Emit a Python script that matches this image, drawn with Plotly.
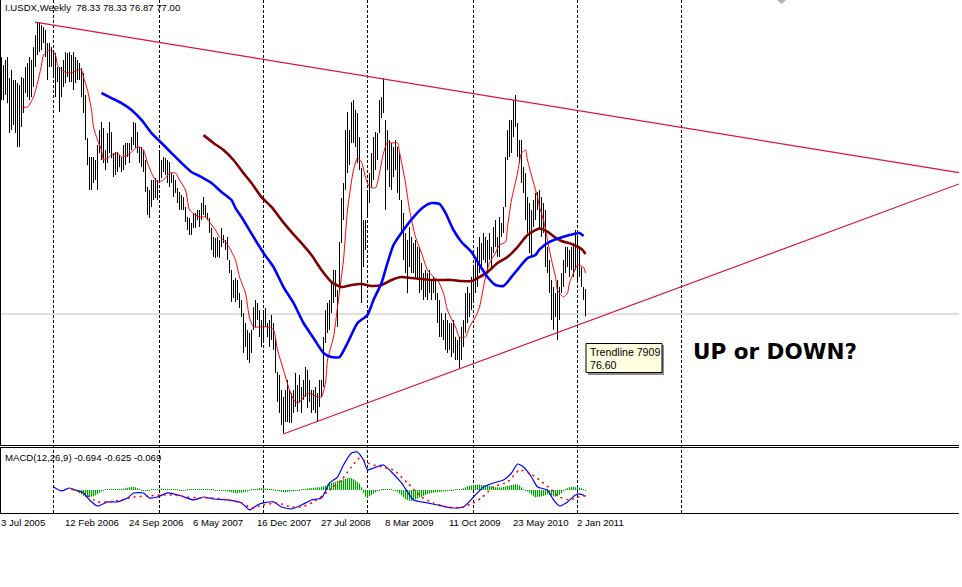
import plotly.graph_objects as go

W, H = 962, 587

# ---------------- data ----------------
symbol = "I.USDX,Weekly"
last_ohlc = [78.33, 78.33, 76.87, 77.00]

# weekly bars, indexed the way the terminal lays them out (one slot per bar)
highs = [
    90.73, 90.30, 90.57, 90.73, 89.61, 90.04, 89.50, 89.50, 89.34, 89.23,
    89.66, 89.61, 90.20, 90.41, 90.73, 90.57, 91.26, 91.90, 92.55, 92.55,
    92.44, 92.33, 92.17, 91.48, 91.48, 91.26, 91.10, 90.94, 90.20, 90.20,
    90.20, 90.57, 90.99, 90.94, 90.99, 90.84, 90.99, 90.73, 90.57, 90.41,
    90.14, 89.88, 88.70, 86.40, 85.39, 85.39, 85.39, 85.23, 86.03, 86.83,
    87.26, 86.94, 85.76, 86.67, 87.26, 86.72, 85.60, 85.65, 85.65, 85.49,
    85.39, 86.03, 86.14, 86.14, 86.14, 86.46, 87.26, 87.21, 86.72, 85.92,
    85.92, 85.76, 85.23, 83.79, 83.63, 84.16, 84.16, 84.27, 84.16, 85.60,
    85.23, 85.39, 85.33, 85.23, 85.12, 84.53, 84.43, 84.16, 83.73, 83.52,
    83.36, 83.25, 82.72, 82.18, 82.13, 81.86, 82.40, 82.40, 82.56, 82.56,
    82.93, 83.25, 82.82, 82.40, 82.13, 81.60, 81.12, 81.06, 81.12, 80.95,
    81.60, 81.22, 80.95, 81.12, 79.89, 79.35, 78.82, 78.92, 78.82, 78.12,
    77.75, 77.05, 76.52, 76.15, 75.99, 76.15, 77.37, 77.75, 77.59, 77.21,
    76.68, 77.05, 77.32, 76.52, 76.68, 76.95, 76.52, 75.72, 73.90, 73.74,
    72.94, 72.57, 72.94, 73.48, 72.94, 72.78, 72.94, 73.85, 73.21, 73.74,
    73.10, 73.48, 74.17, 74.01, 73.48, 72.94, 72.94, 73.10, 72.78, 73.48,
    73.48, 75.77, 77.21, 77.59, 77.75, 78.71, 79.35, 79.35, 78.28, 80.85,
    83.20, 84.00, 86.83, 87.79, 86.83, 88.32, 88.43, 87.90, 87.74, 86.46,
    84.80, 82.02, 82.02, 83.63, 84.53, 85.60, 86.46, 86.72, 86.67, 88.43,
    88.59, 89.61, 87.37, 86.83, 86.30, 86.14, 85.92, 86.30, 85.92, 85.60,
    83.09, 82.40, 81.33, 80.95, 81.65, 81.12, 80.79, 80.95, 80.58, 80.58,
    79.73, 79.19, 79.35, 79.19, 79.35, 78.82, 78.98, 78.82, 78.12, 77.75,
    77.05, 76.68, 77.05, 76.68, 76.52, 76.52, 76.68, 75.77, 75.61, 75.77,
    76.31, 76.68, 78.12, 78.44, 78.12, 78.98, 79.51, 79.89, 80.58, 81.12,
    80.79, 81.33, 81.12, 80.95, 81.33, 80.58, 81.65, 82.02, 81.12, 82.18,
    81.86, 82.72, 85.39, 86.83, 87.37, 87.37, 88.43, 88.70, 87.21, 86.30,
    86.30, 84.85, 84.53, 83.25, 82.93, 82.56, 83.09, 83.47, 83.52, 83.63,
    83.25, 82.93, 82.56, 80.58, 79.89, 78.82, 78.44, 78.12, 78.82, 78.44,
    79.19, 79.89, 80.58, 80.58, 80.42, 80.58, 80.79, 81.49, 81.12, 80.58,
    79.51, 78.44, 78.33,
]
lows = [
    88.43, 88.43, 88.70, 88.27, 86.67, 86.83, 87.10, 86.67, 85.92, 85.92,
    86.99, 87.74, 88.81, 88.59, 88.43, 88.59, 89.13, 90.20, 90.84, 91.00,
    91.10, 91.48, 90.73, 89.50, 90.20, 90.20, 89.66, 88.59, 89.39, 87.79,
    88.59, 89.13, 89.34, 89.66, 89.39, 89.39, 88.97, 89.34, 89.50, 89.50,
    88.59, 87.74, 86.30, 84.96, 83.63, 83.63, 84.00, 84.16, 83.63, 85.60,
    85.23, 85.07, 84.69, 85.07, 85.60, 85.33, 84.32, 84.43, 84.59, 84.85,
    84.59, 84.69, 84.96, 85.39, 85.07, 85.76, 86.03, 85.87, 85.60, 85.07,
    84.85, 84.59, 83.52, 82.29, 82.13, 82.72, 83.09, 83.20, 83.09, 84.00,
    84.27, 84.59, 84.43, 84.00, 83.79, 84.00, 83.25, 83.47, 82.93, 82.56,
    82.56, 82.56, 81.92, 81.49, 81.22, 81.22, 81.60, 81.60, 82.02, 81.65,
    82.02, 82.29, 82.18, 82.02, 81.33, 80.42, 80.05, 79.99, 80.05, 79.99,
    80.58, 80.79, 80.42, 79.89, 79.19, 77.64, 77.86, 77.64, 77.75, 77.32,
    76.84, 74.92, 75.24, 74.54, 74.38, 74.92, 76.15, 76.31, 76.68, 75.77,
    75.24, 75.45, 76.31, 75.77, 75.24, 75.61, 75.08, 73.85, 72.30, 71.71,
    71.07, 70.64, 71.23, 71.23, 71.18, 71.18, 71.71, 72.03, 71.77, 72.25,
    71.71, 72.41, 72.57, 71.98, 72.30, 71.71, 71.87, 71.71, 71.23, 72.03,
    72.57, 73.10, 75.45, 75.99, 76.15, 77.05, 77.59, 77.91, 76.31, 78.20,
    80.80, 82.02, 83.63, 84.53, 84.96, 86.14, 86.14, 85.92, 85.07, 84.69,
    77.59, 79.51, 80.42, 82.18, 82.93, 83.79, 84.16, 84.69, 85.23, 86.67,
    87.47, 87.74, 82.56, 84.69, 83.79, 83.63, 84.32, 84.69, 83.47, 83.09,
    81.33, 79.89, 79.19, 78.12, 79.51, 79.19, 79.19, 78.98, 78.82, 78.12,
    78.28, 77.75, 77.91, 77.75, 78.12, 77.75, 78.12, 77.75, 76.52, 75.77,
    75.77, 75.61, 75.08, 74.92, 75.08, 74.70, 74.92, 74.54, 74.54, 74.12,
    74.54, 75.24, 75.99, 76.52, 76.84, 77.21, 77.75, 78.12, 78.44, 79.19,
    79.51, 79.89, 79.73, 79.35, 79.89, 79.51, 80.26, 80.58, 80.05, 80.05,
    81.12, 81.33, 82.72, 85.23, 85.39, 85.60, 86.46, 87.00, 85.39, 85.07,
    84.00, 83.47, 82.02, 81.33, 80.26, 80.05, 81.65, 82.02, 82.56, 81.49,
    81.12, 81.33, 79.51, 79.19, 78.12, 76.68, 76.15, 76.84, 75.61, 76.68,
    78.12, 78.44, 79.19, 79.51, 78.98, 79.35, 78.98, 79.35, 78.66, 78.98,
    78.44, 77.75, 76.87,
]

# moving averages (bar index, value)
red_idx = [10, 13, 16, 18, 20, 21, 24, 25, 27, 28,
           30, 33, 35, 38, 40, 41, 43, 45, 46, 48,
           50, 51, 53, 55, 58, 60, 63, 65, 67, 69,
           71, 73, 76, 78, 81, 84, 87, 89, 92, 93,
           94, 97, 99, 102, 104, 107, 109, 112, 114, 117,
           119, 122, 124, 126, 129, 133, 136, 138, 141, 144,
           147, 149, 152, 154, 158, 160, 162, 163, 166, 168,
           171, 173, 176, 178, 180, 182, 184, 187, 189, 191,
           193, 195, 198, 199, 202, 204, 207, 210, 213, 216,
           218, 221, 223, 227, 229, 232, 234, 237, 239, 242,
           244, 247, 249, 252, 253, 255, 258, 260, 262, 263,
           266, 268, 269, 271, 273, 275, 277, 278, 281, 283,
           284, 286, 288, 289, 291, 292]
red_val = [88.06, 88.06, 88.59, 89.34, 90.30, 90.84, 91.10, 91.10, 90.84, 90.30,
           90.04, 89.88, 89.88, 90.04, 90.04, 89.66, 88.97, 87.90, 86.99, 86.30,
           85.76, 85.23, 85.33, 85.49, 85.60, 85.39, 85.49, 85.65, 85.87, 85.92,
           85.76, 85.07, 84.32, 84.05, 84.16, 84.53, 84.53, 84.16, 83.63, 83.09,
           82.56, 82.29, 82.18, 82.18, 81.92, 81.49, 81.12, 80.85, 80.53, 79.89,
           78.98, 78.12, 76.80, 76.31, 76.31, 76.31, 76.15, 75.08, 74.01, 72.94,
           72.30, 72.30, 72.68, 72.78, 72.57, 72.57, 73.32, 74.54, 75.77, 77.37,
           79.89, 82.56, 84.69, 85.33, 85.12, 84.32, 83.79, 83.74, 84.53, 85.60,
           86.19, 86.14, 86.14, 85.65, 84.00, 82.56, 81.12, 80.26, 79.35, 78.98,
           78.82, 78.12, 77.21, 76.31, 75.77, 75.77, 76.31, 76.84, 77.37, 78.98,
           79.73, 80.26, 80.69, 80.85, 81.65, 83.09, 84.53, 85.60, 85.76, 85.23,
           84.00, 83.25, 82.72, 82.02, 80.95, 79.89, 78.98, 78.28, 77.91, 78.12,
           78.66, 79.19, 79.62, 79.62, 79.51, 79.19]

blue_idx = [50, 55, 60, 65, 70, 75, 80, 85, 90, 95,
            100, 105, 110, 115, 117, 120, 126, 131, 136, 141,
            146, 151, 156, 161, 165, 169, 173, 178, 183, 186,
            190, 193, 196, 201, 206, 211, 215, 219, 222, 226,
            230, 235, 239, 243, 247, 251, 255, 259, 263, 267,
            269, 274, 279, 284, 289, 291]
blue_val = [88.81, 88.54, 88.27, 87.90, 87.37, 86.67, 86.14, 85.60, 85.07, 84.59,
            84.32, 84.00, 83.52, 83.09, 82.66, 82.18, 81.12, 80.26, 79.51, 78.44,
            77.59, 76.52, 75.72, 74.92, 74.70, 74.70, 75.45, 76.52, 76.95, 77.75,
            78.66, 79.73, 80.69, 81.49, 82.18, 82.72, 82.93, 82.88, 82.40, 81.49,
            80.85, 80.31, 79.62, 78.98, 78.55, 78.50, 78.98, 79.51, 79.99, 80.15,
            80.45, 80.85, 81.06, 81.22, 81.33, 81.17]

maroon_idx = [101, 106, 111, 116, 121, 125, 130, 135, 140, 145,
              150, 155, 160, 165, 170, 175, 180, 185, 190, 195,
              200, 205, 210, 215, 220, 225, 230, 235, 238,
              243, 248, 253, 258, 263, 269, 273, 276, 280, 285,
              290, 292]
maroon_val = [86.56, 86.14, 85.76, 85.23, 84.53, 84.00, 83.25, 82.72, 82.02, 81.38,
              80.79, 80.15, 79.35, 78.71, 78.44, 78.55, 78.60, 78.50, 78.55, 78.82,
              78.98, 78.92, 78.87, 78.82, 78.82, 78.82, 78.76, 78.76, 78.92,
              79.24, 79.73, 80.05, 80.58, 81.22, 81.57, 81.40, 81.15, 80.90, 80.74,
              80.47, 80.21]

# MACD panel
macd_name = "MACD(12,26,9)"
macd_last = [-0.694, -0.625, -0.069]
macd_idx = [26, 30, 34, 37, 41, 44, 48, 53, 58, 63,
            66, 71, 74, 78, 83, 90, 96, 101, 106, 113,
            120, 124, 128, 131, 136, 140, 145, 150, 155, 160,
            164, 168, 171, 175, 178, 181, 183, 186, 191, 195,
            200, 206, 213, 218, 225, 231, 236, 241, 246, 251,
            255, 258, 261, 265, 268, 273, 276, 279, 283, 287,
            289, 292]
macd_val = [0.33, -0.11, 0.22, 0.0, -0.33, -1.11, -1.78, -1.33, -1.33, -0.89,
            -0.33, -0.33, -0.89, -0.78, -0.33, -0.67, -1.11, -0.78, -1.0, -1.11,
            -1.44, -2.22, -1.67, -1.44, -1.33, -1.89, -2.11, -1.67, -1.11, -0.89,
            0.78, 1.44, 2.78, 4.11, 4.22, 3.33, 2.22, 2.44, 2.78, 2.0,
            0.78, -1.11, -1.44, -1.67, -2.0, -1.89, -0.78, 0.33, 0.78, 1.11,
            1.89, 2.89, 2.56, 1.44, 0.33, 0.0, -1.11, -1.78, -1.33, -0.56,
            -0.44, -0.694]
sig_idx = [35, 41, 48, 53, 60, 66, 73, 80, 86, 93,
           100, 106, 113, 120, 125, 131, 138, 145, 150, 156,
           163, 170, 175, 179, 183, 190, 196, 203, 210, 216,
           223, 229, 236, 240, 246, 253, 259, 264, 269, 274,
           279, 284, 288, 292]
sig_val = [0.11, -0.33, -1.33, -1.33, -1.11, -0.78, -0.67, -0.56, -0.56, -0.78,
           -0.89, -0.89, -1.11, -1.44, -2.0, -1.67, -1.44, -1.89, -1.89, -1.33,
           -0.22, 1.11, 2.56, 3.56, 3.0, 2.56, 2.22, 0.78, -0.78, -1.44,
           -1.89, -2.0, -1.44, -0.89, 0.33, 0.89, 2.22, 1.89, 1.11, 0.22,
           -0.78, -1.11, -0.78, -0.625]
hist = [
    0.0, -0.05, -0.1, -0.2, -0.35, -0.5,
    -0.65, -0.75, -0.8, -0.8, -0.75, -0.7, -0.6, -0.45, -0.3,
    -0.15, -0.05, 0.05, 0.05, 0.05, 0.05, 0.05, 0.05, 0.05, 0.05, 0.1, 0.15,
    0.2, 0.25, 0.3, 0.35, 0.35, 0.3, 0.2,
    0.05, -0.05, -0.1, -0.1, -0.05, -0.05, 0.0, 0.05, 0.1, 0.1, 0.15,
    0.15, 0.15, 0.1, 0.1, 0.05, 0.05, 0.05, 0.05, 0.0,
    -0.05, -0.05, -0.05, -0.05, 0.0, 0.05, 0.05, 0.05, 0.05, 0.05, 0.05,
    0.05, 0.05, 0.0, 0.0, 0.05, 0.05, 0.0, -0.05, -0.05, -0.05, -0.1, -0.1, -0.1, -0.15, -0.2,
    -0.25, -0.3, -0.35, -0.35, -0.3, -0.3, -0.25, -0.2, -0.15, -0.1,
    0.0, 0.05, 0.1, 0.15, 0.2, 0.2, 0.2, 0.15, 0.15, 0.1, 0.05, 0.0, -0.05, -0.1,
    -0.15, -0.2, -0.25, -0.25, -0.2, -0.2, -0.15, -0.15, -0.1, -0.1, -0.05,
    0.0, 0.05, 0.1, 0.15, 0.2, 0.2, 0.25, 0.25, 0.3, 0.3,
    0.35, 0.4, 0.5, 0.6, 0.7, 0.8, 0.85, 0.9, 1.0, 1.05, 1.1, 1.2, 1.25, 1.3, 1.35, 1.3, 1.2, 1.05, 0.9, 0.7,
    0.3, -0.3, -0.75, -0.85, -0.7, -0.55, -0.4, -0.25, -0.15,
    -0.05, 0.0, 0.05, 0.1, 0.05, 0.0, 0.0, -0.05, -0.1, -0.2,
    -0.4, -0.6, -0.8, -1.0, -1.1, -1.2, -1.2, -1.15, -1.05, -0.95, -0.85, -0.75, -0.65, -0.55, -0.45, -0.4, -0.35, -0.3,
    -0.25, -0.25, -0.2, -0.2, -0.15, -0.15, -0.1, -0.1, -0.05, -0.05,
    0.0, 0.0, 0.05, 0.1,
    0.2, 0.3, 0.4, 0.45, 0.5, 0.55, 0.6, 0.6, 0.6, 0.55, 0.55, 0.5, 0.5, 0.45, 0.4,
    0.35, 0.3, 0.3, 0.3, 0.3, 0.35, 0.4, 0.45, 0.5,
    0.55, 0.6, 0.65, 0.6, 0.5, 0.3,
    0.1, -0.05, -0.15, -0.3,
    -0.5, -0.7, -0.8, -0.8, -0.75, -0.7, -0.65, -0.6, -0.5, -0.55, -0.6, -0.7, -0.75, -0.7, -0.55, -0.35,
    -0.1, 0.05, 0.2, 0.3, 0.35, 0.35, 0.3, 0.3, 0.25, 0.2, 0.1, -0.069,
]

# trendlines (bar position, price)
upper_tl_x = [16.75, 478.75]
upper_tl_y = [92.60, 84.55]
lower_tl_x = [140.9, 478.75]
lower_tl_y = [70.59, 83.95]
tl_name = "Trendline 7909"
tl_value = 76.60
note_text = "UP or DOWN?"

# time axis: bar slots of the yearly separators and of the date labels
year_idx = [26, 79, 131, 183, 236, 288, 340]
tick_idx = [0, 32, 64, 96, 128, 160, 192, 224, 256, 288]
tick_text = ["3 Jul 2005", "12 Feb 2006", "24 Sep 2006", "6 May 2007", "16 Dec 2007",
             "27 Jul 2008", "8 Mar 2009", "11 Oct 2009", "23 May 2010", "2 Jan 2011"]

x_range = [-0.75, 478.75]
price_range = [70.0, 93.78]
macd_range = [-2.56, 4.78]

# ---------------- figure ----------------
def px(v):
    return v / W


def py(v):
    return 1 - v / H


FONT = "Liberation Sans, Arial, sans-serif"
bar_x = list(range(len(highs)))

fig = go.Figure()

# price bars (high-low)
bx, by = [], []
for k, hv, lv in zip(bar_x, highs, lows):
    bx += [k, k, None]
    by += [lv, hv, None]
fig.add_trace(go.Scatter(x=bx, y=by, mode="lines", line=dict(color="black", width=1),
                         xaxis="x", yaxis="y", hoverinfo="skip"))

fig.add_trace(go.Scatter(x=red_idx, y=red_val, mode="lines",
                         line=dict(color="#FF0000", width=1, shape="spline", smoothing=0.6),
                         xaxis="x", yaxis="y", hoverinfo="skip"))
fig.add_trace(go.Scatter(x=maroon_idx, y=maroon_val, mode="lines",
                         line=dict(color="#800000", width=2.6, shape="spline", smoothing=0.6),
                         xaxis="x", yaxis="y", hoverinfo="skip"))
fig.add_trace(go.Scatter(x=blue_idx, y=blue_val, mode="lines",
                         line=dict(color="#0000FF", width=2.6, shape="spline", smoothing=0.6),
                         xaxis="x", yaxis="y", hoverinfo="skip"))

fig.add_trace(go.Scatter(x=upper_tl_x, y=upper_tl_y, mode="lines",
                         line=dict(color="#DC143C", width=1.2), xaxis="x", yaxis="y",
                         hoverinfo="skip"))
fig.add_trace(go.Scatter(x=lower_tl_x, y=lower_tl_y, mode="lines",
                         line=dict(color="#DC143C", width=1.2), xaxis="x", yaxis="y",
                         hoverinfo="skip"))

# MACD histogram
h0 = len(bar_x) - len(hist)
hx, hy = [], []
for k, v in zip(bar_x[h0:], hist):
    hx += [k, k, None]
    hy += [0, v if abs(v) > 0.1 else (0.11 if v >= 0 else -0.11), None]
fig.add_trace(go.Scatter(x=hx, y=hy, mode="lines", line=dict(color="#00A000", width=1.2),
                         xaxis="x2", yaxis="y2", hoverinfo="skip"))
fig.add_trace(go.Scatter(x=macd_idx, y=macd_val, mode="lines",
                         line=dict(color="#0000FF", width=1.2, shape="spline", smoothing=0.5),
                         xaxis="x2", yaxis="y2", hoverinfo="skip"))
fig.add_trace(go.Scatter(x=sig_idx, y=sig_val, mode="lines",
                         line=dict(color="#FF0000", width=1.5, dash="2px,4px",
                                   shape="spline", smoothing=0.5),
                         xaxis="x2", yaxis="y2", hoverinfo="skip"))

shapes = []
# bid line
shapes.append(dict(type="line", xref="paper", yref="y", x0=0, x1=px(959),
                   y0=last_ohlc[3], y1=last_ohlc[3],
                   line=dict(color="#C0C0C0", width=1), layer="below"))
# yearly dashed separators
for k in year_idx:
    shapes.append(dict(type="line", xref="x", yref="paper", x0=k, x1=k,
                       y0=py(513), y1=1, line=dict(color="black", width=1, dash="3px,2px"),
                       layer="below"))
# frames
for y0, y1 in [(0, 445), (447, 513)]:
    shapes.append(dict(type="line", xref="paper", yref="paper", x0=px(0.5), x1=px(0.5),
                       y0=py(y1), y1=py(y0), line=dict(color="black", width=1)))
for yv in [445.5, 447.5, 513.5]:
    shapes.append(dict(type="line", xref="paper", yref="paper", x0=0, x1=px(959),
                       y0=py(yv), y1=py(yv), line=dict(color="black", width=1)))
# tooltip box with shadow
shapes.append(dict(type="rect", xref="paper", yref="paper", x0=px(588), x1=px(664),
                   y0=py(375), y1=py(345), fillcolor="#8C8C8C", line=dict(width=0)))
shapes.append(dict(type="rect", xref="paper", yref="paper", x0=px(586), x1=px(662),
                   y0=py(372.5), y1=py(343.5), fillcolor="#FFFFE1",
                   line=dict(color="black", width=1)))
# chart shift marker
shapes.append(dict(type="path", xref="paper", yref="paper",
                   path=f"M {px(777)},{py(0)} L {px(786)},{py(0)} L {px(781.5)},{py(4)} Z",
                   fillcolor="#B4B4B4", line=dict(width=0)))

annotations = []
hdr = symbol + "\u00a0\u00a0" + " ".join(f"{v:.2f}" for v in last_ohlc)
annotations.append(dict(text=hdr, xref="paper", yref="paper", x=px(3.5), y=py(7),
                        xanchor="left", yanchor="middle", showarrow=False, borderpad=0,
                        font=dict(family=FONT, size=9.6, color="black")))
mhdr = macd_name + " " + " ".join(f"{v:.3f}" for v in macd_last)
annotations.append(dict(text=mhdr, xref="paper", yref="paper", x=px(4), y=py(457),
                        xanchor="left", yanchor="middle", showarrow=False, borderpad=0,
                        font=dict(family=FONT, size=9.6, color="black")))
for k, t in zip(tick_idx, tick_text):
    annotations.append(dict(text=t, xref="x", yref="paper", x=k, y=py(522.5),
                            xanchor="left", yanchor="middle", showarrow=False, borderpad=0,
                            xshift=-1.5, font=dict(family=FONT, size=9.6, color="black")))
annotations.append(dict(text=tl_name, xref="paper", yref="paper", x=px(588.5), y=py(352),
                        xanchor="left", yanchor="middle", showarrow=False, borderpad=0,
                        font=dict(family=FONT, size=10.6, color="black")))
annotations.append(dict(text=f"{tl_value:.2f}", xref="paper", yref="paper", x=px(588.5),
                        y=py(364.5), xanchor="left", yanchor="middle", showarrow=False,
                        borderpad=0, font=dict(family=FONT, size=10.6, color="black")))
annotations.append(dict(text=note_text, xref="paper", yref="paper", x=px(692), y=py(351.5),
                        xanchor="left", yanchor="middle", showarrow=False, borderpad=0,
                        font=dict(family="DejaVu Sans", size=21.5, color="black",
                                  weight="bold")))

fig.update_layout(
    width=W, height=H,
    margin=dict(l=0, r=0, t=0, b=0),
    paper_bgcolor="white", plot_bgcolor="white",
    showlegend=False, hovermode=False,
    xaxis=dict(domain=[0, px(959)], range=x_range, visible=False, anchor="y"),
    xaxis2=dict(domain=[0, px(959)], range=x_range, visible=False, anchor="y2",
                matches="x"),
    yaxis=dict(domain=[py(445), 1], range=price_range, visible=False, anchor="x"),
    yaxis2=dict(domain=[py(513), py(447)], range=macd_range, visible=False, anchor="x2"),
    shapes=shapes,
    annotations=annotations,
)

fig.write_html("out.html", config={"displayModeBar": False, "staticPlot": True},
               post_script="document.body.style.margin='0px';")
